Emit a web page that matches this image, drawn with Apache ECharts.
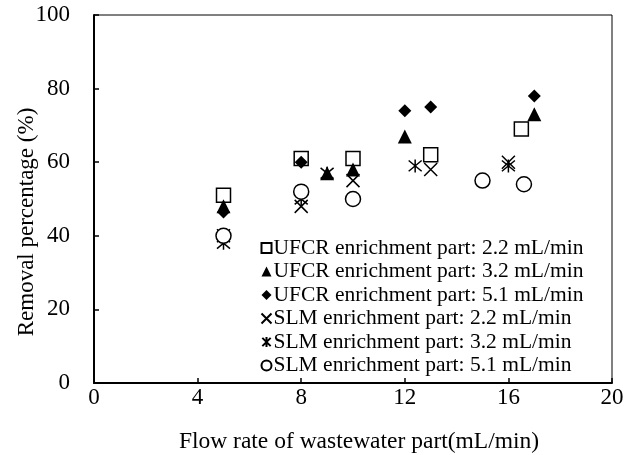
<!DOCTYPE html>
<html><head><meta charset="utf-8">
<script src="https://cdn.jsdelivr.net/npm/echarts@6/dist/echarts.min.js"></script>
<style>html,body{margin:0;padding:0;background:#fff}#c{width:625px;height:455px}</style>
</head><body><div id="c"></div>
<script>
var xTicks = [0, 4, 8, 12, 16, 20];
var yTicks = [0, 20, 40, 60, 80, 100];
var seriesNames = [
  'UFCR enrichment part: 2.2 mL/min',
  'UFCR enrichment part: 3.2 mL/min',
  'UFCR enrichment part: 5.1 mL/min',
  'SLM enrichment part: 2.2 mL/min',
  'SLM enrichment part: 3.2 mL/min',
  'SLM enrichment part: 5.1 mL/min'
];
var ufcr22 = [[5, 51], [8, 61], [10, 61], [13, 62], [16.5, 69]];
var ufcr32 = [[5, 48], [9, 57], [10, 58], [12, 67], [17, 73]];
var ufcr51 = [[5, 46.5], [8, 60], [12, 74], [13, 75], [17, 78]];
var slm22 = [[5, 40], [8, 48], [10, 55], [13, 58], [16, 60]];
var slm32 = [[5, 38], [8, 50], [9, 57], [12.4, 59], [16, 59]];
var slm51 = [[5, 40], [8, 52], [10, 50], [15, 55], [16.6, 54]];

var CROSS = 'path://M0,0L10,10M10,0L0,10';
var STAR = 'path://M0,0L10,10M10,0L0,10M5,-1L5,11';
var font = 'Liberation Serif';
function mk(name, data, symbol, size, fill, bw) {
  return {
    type: 'scatter', name: name, data: data, symbol: symbol, symbolSize: size,
    itemStyle: { color: fill, borderColor: '#000', borderWidth: bw, opacity: 1 },
    emphasis: { disabled: true }, z: 5
  };
}
var chart = echarts.init(document.getElementById('c'), null, { renderer: 'canvas' });
chart.setOption({
  animation: false,
  backgroundColor: '#fff',
  textStyle: { fontFamily: font },
  grid: { left: 94, right: 13, top: 15, bottom: 72, show: true, borderColor: '#000', borderWidth: 1,
          containLabel: false, outerBoundsMode: 'none' },
  legend: {
    orient: 'vertical', left: 254, top: 232, itemGap: 1.5, itemWidth: 10, itemHeight: 10,
    textStyle: { fontFamily: font, fontSize: 21.5, lineHeight: 22, color: '#000', padding: [0, 0, 0, -3] },
    data: seriesNames
  },
  xAxis: {
    type: 'value', min: xTicks[0], max: xTicks[xTicks.length - 1], interval: 4,
    name: 'Flow rate of wastewater part(mL/min)', nameLocation: 'middle', nameGap: 47,
    nameMoveOverlap: false,
    nameTextStyle: { fontFamily: font, fontSize: 23.5, color: '#000', padding: [0, 0, 0, 12] },
    axisLine: { lineStyle: { color: '#000', width: 2 } },
    axisTick: { inside: true, length: 5, lineStyle: { color: '#000', width: 1.5 } },
    axisLabel: { fontFamily: font, fontSize: 23, color: '#000', margin: 3 },
    splitLine: { show: false }
  },
  yAxis: {
    type: 'value', min: yTicks[0], max: yTicks[yTicks.length - 1], interval: 20,
    name: 'Removal percentage (%)', nameLocation: 'middle', nameGap: 56,
    nameMoveOverlap: false,
    nameTextStyle: { fontFamily: font, fontSize: 23, color: '#000', padding: [0, 46, 0, 0] },
    axisLine: { lineStyle: { color: '#000', width: 2 } },
    axisTick: { inside: true, length: 5, lineStyle: { color: '#000', width: 1.5 } },
    axisLabel: { fontFamily: font, fontSize: 23, color: '#000', margin: 24 },
    splitLine: { show: false }
  },
  series: [
    mk(seriesNames[0], ufcr22, 'rect', 14, '#fff', 1.5),
    mk(seriesNames[1], ufcr32, 'triangle', 14, '#000', 0),
    mk(seriesNames[2], ufcr51, 'diamond', 13, '#000', 0),
    mk(seriesNames[3], slm22, CROSS, 13, 'none', 1.5),
    mk(seriesNames[4], slm32, STAR, 13, 'none', 1.5),
    mk(seriesNames[5], slm51, 'circle', 15, '#fff', 1.5)
  ]
});
</script></body></html>
